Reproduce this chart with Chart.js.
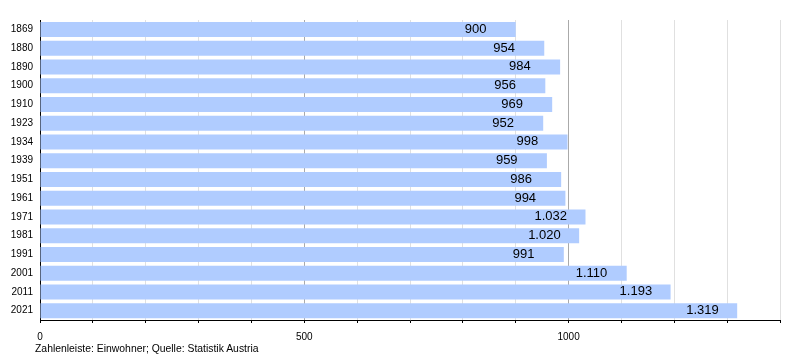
<!DOCTYPE html>
<html>
<head>
<meta charset="utf-8">
<script src="https://cdn.jsdelivr.net/npm/chart.js@4/dist/chart.umd.min.js"></script>
<style>
  html, body { margin: 0; padding: 0; background: #fff; }
  #wrap { position: relative; width: 800px; height: 360px; }
  #caption {
    position: absolute; left: 35px; top: 343px;
    font: 10.4px "Liberation Sans", Arial, sans-serif; color: #000;
  }
</style>
</head>
<body>
<div id="wrap">
  <canvas id="chart" width="800" height="360"></canvas>
  <div id="caption">Zahlenleiste: Einwohner; Quelle: Statistik Austria</div>
</div>
<script>
const years = ['1869','1880','1890','1900','1910','1923','1934','1939','1951','1961','1971','1981','1991','2001','2011','2021'];
const population = [900, 954, 984, 956, 969, 952, 998, 959, 986, 994, 1032, 1020, 991, 1110, 1193, 1319];
const axisTicks = [0, 500, 1000];

const FONT = '"Liberation Sans", Arial, sans-serif';
const fmt = v => new Intl.NumberFormat('de-DE').format(v);

// Zahlen in den Balken
const valueLabels = {
  id: 'valueLabels',
  afterDatasetsDraw(chart) {
    const ctx = chart.ctx;
    const meta = chart.getDatasetMeta(0);
    ctx.save();
    ctx.font = '13px ' + FONT;
    ctx.fillStyle = '#000';
    ctx.textAlign = 'left';
    ctx.textBaseline = 'middle';
    meta.data.forEach((bar, i) => {
      ctx.fillText(fmt(population[i]), bar.x - 51, bar.y);
    });
    ctx.restore();
  }
};

new Chart(document.getElementById('chart').getContext('2d'), {
  type: 'bar',
  data: {
    labels: years,
    datasets: [{
      data: population,
      backgroundColor: '#b0ccff',
      borderWidth: 0,
      barPercentage: 0.8,
      categoryPercentage: 1.0
    }]
  },
  options: {
    indexAxis: 'y',
    responsive: false,
    animation: false,
    layout: { padding: { left: 0, right: 20, top: 20, bottom: 0 } },
    plugins: { legend: { display: false }, tooltip: { enabled: false } },
    scales: {
      x: {
        min: 0, max: 1400,
        ticks: {
          stepSize: 100,
          autoSkip: false,
          maxRotation: 0,
          padding: 8,
          color: '#000',
          font: { family: FONT, size: 10 },
          callback: v => axisTicks.includes(v) ? String(v) : ''
        },
        grid: {
          color: c => (c.tick && c.tick.value % 500 === 0) ? '#aaaaaa' : '#e0e0e0',
          tickColor: '#000',
          tickLength: 3,
          lineWidth: 1
        },
        border: { color: '#000', width: 1 },
        afterFit: s => { s.height = 40; }
      },
      y: {
        ticks: {
          color: '#000',
          padding: 7,
          font: { family: FONT, size: 10 }
        },
        grid: { display: false, drawTicks: false },
        border: { color: '#000', width: 1 },
        afterFit: s => { s.width = 40; }
      }
    }
  },
  plugins: [valueLabels]
});
</script>
</body>
</html>
